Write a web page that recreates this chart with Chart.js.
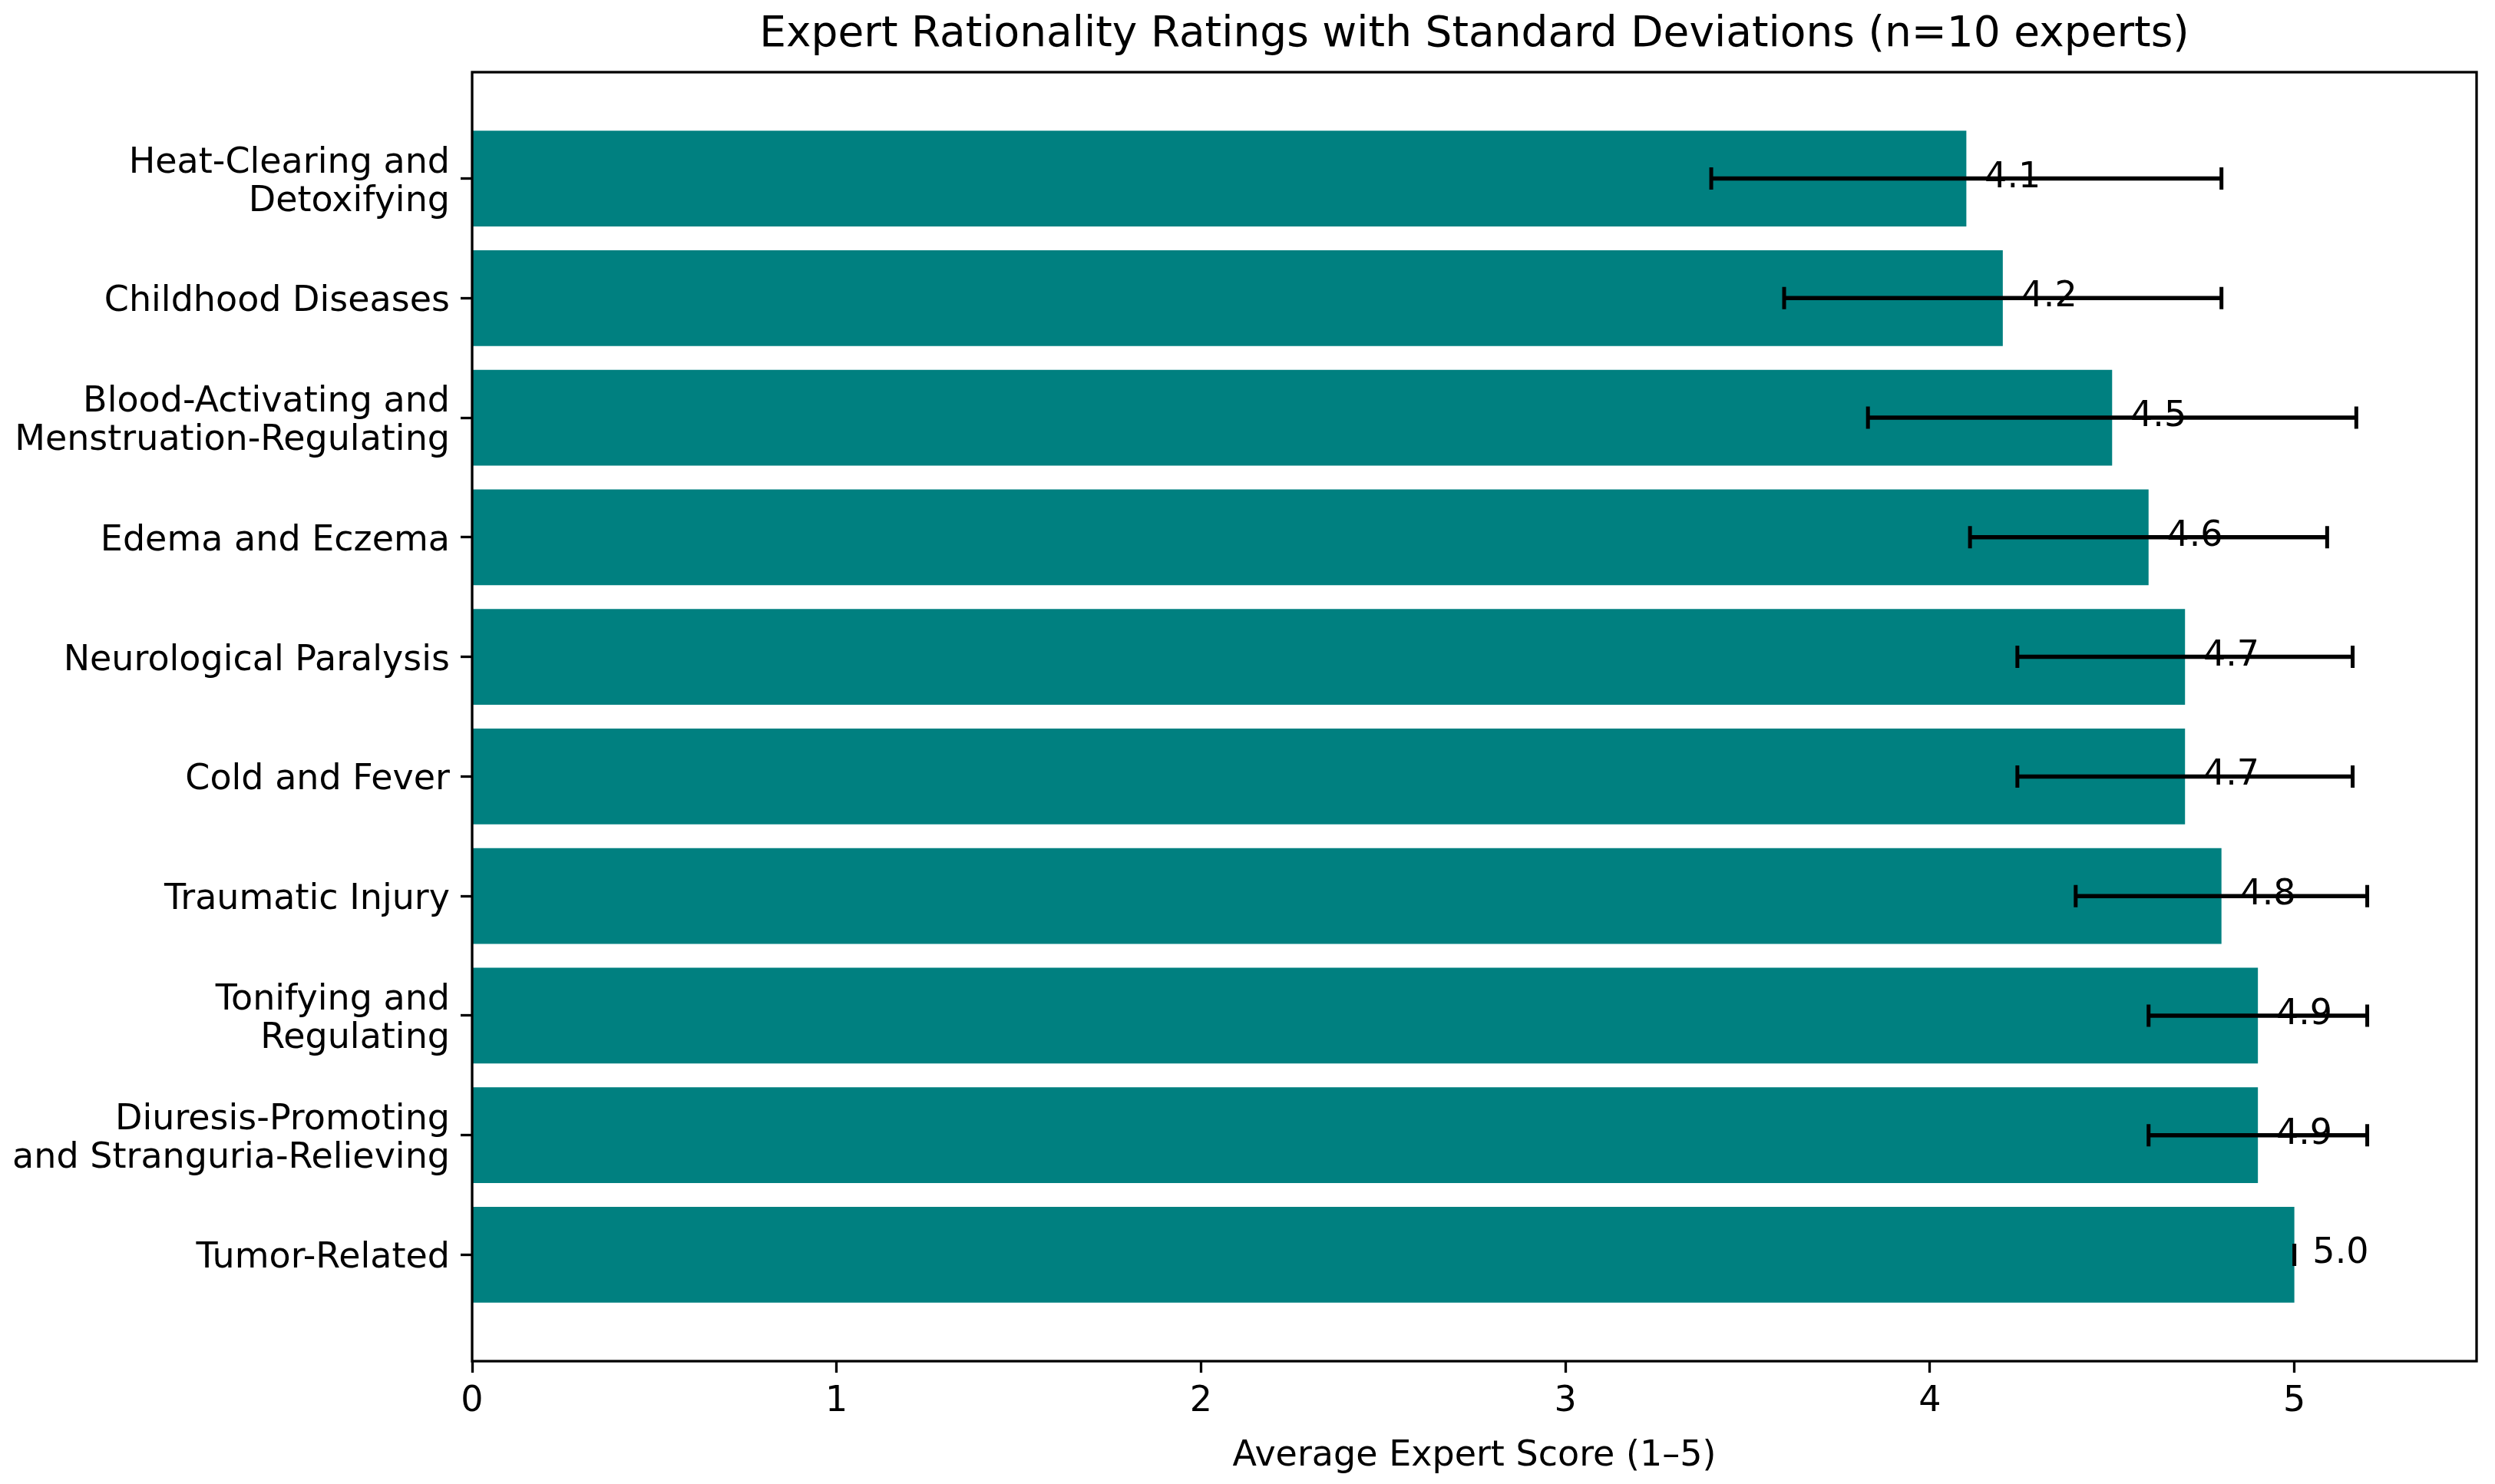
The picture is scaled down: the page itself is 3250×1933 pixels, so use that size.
<!DOCTYPE html>
<html>
<head>
<meta charset="utf-8">
<script src="https://cdn.jsdelivr.net/npm/chart.js@4.4.1/dist/chart.umd.min.js"></script>
<style>
  html, body { margin: 0; padding: 0; background: #fff; }
  #wrap { width: 3250px; height: 1933px; }
</style>
</head>
<body>
<div id="wrap"><canvas id="ratingsChart" width="3250" height="1933"></canvas></div>
<script>
// categories top to bottom, long names split in two lines like the original
const categories = [
    ['Heat-Clearing and', 'Detoxifying'],
    'Childhood Diseases',
    ['Blood-Activating and', 'Menstruation-Regulating'],
    'Edema and Eczema',
    'Neurological Paralysis',
    'Cold and Fever',
    'Traumatic Injury',
    ['Tonifying and', 'Regulating'],
    ['Diuresis-Promoting', 'and Stranguria-Relieving'],
    'Tumor-Related'
]
const meanScores = [4.1, 4.2, 4.5, 4.6, 4.7, 4.7, 4.8, 4.9, 4.9, 5.0]
const stdDevs    = [0.70, 0.60, 0.67, 0.49, 0.46, 0.46, 0.40, 0.30, 0.30, 0.00]
const xTicks     = [0, 1, 2, 3, 4, 5]

Chart.defaults.font.family = '"DejaVu Sans", sans-serif'
Chart.defaults.color = '#000'

const FONT_PX = 46

// error bars, value labels and the box around the plot
const errorBars = {
    id: 'errorBars',
    afterDatasetsDraw(chart) {
        const { ctx, chartArea, scales: { x, y } } = chart
        ctx.save()
        ctx.strokeStyle = '#000'
        ctx.fillStyle = '#000'
        meanScores.forEach((m, i) => {
            const yy = y.getPixelForValue(i)
            const x1 = x.getPixelForValue(m - stdDevs[i])
            const x2 = x.getPixelForValue(m + stdDevs[i])
            ctx.lineWidth = 5.5
            ctx.beginPath()
            ctx.moveTo(x1, yy)
            ctx.lineTo(x2, yy)
            ctx.stroke()
            ctx.lineWidth = 5
            ctx.beginPath()
            ctx.moveTo(x1, yy - 14.5)
            ctx.lineTo(x1, yy + 14.5)
            ctx.moveTo(x2, yy - 14.5)
            ctx.lineTo(x2, yy + 14.5)
            ctx.stroke()
        })
        ctx.font = FONT_PX + 'px "DejaVu Sans"'
        ctx.textAlign = 'left'
        ctx.textBaseline = 'middle'
        meanScores.forEach((m, i) => {
            ctx.fillText(m.toFixed(1), x.getPixelForValue(m + 0.05), y.getPixelForValue(i) - 1)
        })
        ctx.lineWidth = 3.3
        ctx.strokeRect(chartArea.left, chartArea.top, chartArea.right - chartArea.left, chartArea.bottom - chartArea.top)
        ctx.restore()
    }
}

new Chart(document.getElementById('ratingsChart'), {
    type: 'bar',
    data: {
        datasets: [{
            data: meanScores.map((v, i) => ({ x: v, y: i })),
            backgroundColor: '#008080',
            borderWidth: 0,
            barPercentage: 0.8,
            categoryPercentage: 1.0
        }]
    },
    options: {
        indexAxis: 'y',
        responsive: false,
        devicePixelRatio: 1,
        animation: false,
        layout: { padding: { left: 0, right: 24, top: 0, bottom: 0 } },
        plugins: {
            legend: { display: false },
            tooltip: { enabled: false },
            title: {
                display: true,
                text: 'Expert Rationality Ratings with Standard Deviations (n=10 experts)',
                fullSize: false,
                color: '#000',
                font: { size: 55, weight: 'normal' },
                padding: { top: 13, bottom: 15 }
            }
        },
        scales: {
            x: {
                type: 'linear',
                min: 0,
                max: 5.5,
                afterBuildTicks: axis => { axis.ticks = xTicks.map(v => ({ value: v })) },
                afterFit: axis => { axis.height = 160 },
                grid: { display: true, drawOnChartArea: false, drawTicks: true, tickLength: 15, tickWidth: 3.3, tickColor: '#000' },
                border: { display: false },
                ticks: { font: { size: FONT_PX }, color: '#000', padding: 10, maxRotation: 0 },
                title: {
                    display: true,
                    text: 'Average Expert Score (1–5)',
                    color: '#000',
                    font: { size: FONT_PX },
                    padding: { top: 0, bottom: 8 }
                }
            },
            y: {
                type: 'linear',
                reverse: true,
                offset: false,
                min: -0.89,
                max: 9.89,
                afterBuildTicks: axis => { axis.ticks = categories.map((c, i) => ({ value: i })) },
                afterFit: axis => { axis.width = 615 },
                grid: { display: true, offset: false, drawOnChartArea: false, drawTicks: true, tickLength: 15, tickWidth: 3.3, tickColor: '#000' },
                border: { display: false },
                ticks: {
                    autoSkip: false,
                    font: { size: FONT_PX, lineHeight: 1.09 },
                    color: '#000',
                    padding: 14,
                    labelOffset: 5,
                    callback: value => categories[value]
                }
            }
        }
    },
    plugins: [errorBars]
})
</script>
</body>
</html>
